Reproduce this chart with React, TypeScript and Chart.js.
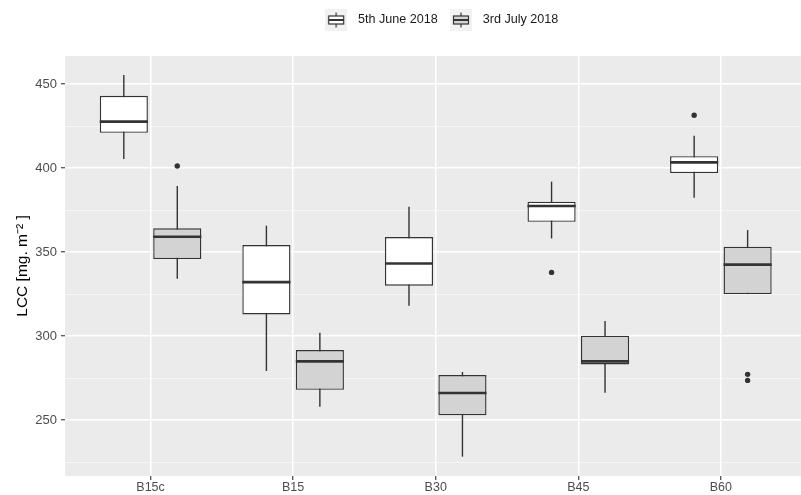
import React, { useEffect, useRef } from 'react';
import { Chart, registerables } from 'chart.js';

Chart.register(...registerables);

// ---------- data ----------
const categories = ['B15c', 'B15', 'B30', 'B45', 'B60'];
const seriesNames = ['5th June 2018', '3rd July 2018'];

const juneLowerWhisker = [405.4, 279.2, 318.1, 358.1, 382.3];
const juneQ1 = [421.0, 312.9, 330.0, 368.0, 397.0];
const juneMedian = [427.6, 332.1, 343.2, 377.4, 403.4];
const juneQ3 = [443.0, 354.2, 358.9, 380.0, 407.1];
const juneUpperWhisker = [455.4, 365.7, 377.0, 391.9, 419.2];
const juneOutlierCats = ['B45', 'B60'];
const juneOutlierValues = [337.9, 431.4];

const julyLowerWhisker = [334.1, 257.9, 228.2, 266.3, 325.0];
const julyQ1 = [345.8, 268.0, 252.8, 283.1, 325.0];
const julyMedian = [359.1, 284.9, 266.1, 284.9, 342.5];
const julyQ3 = [364.1, 291.7, 276.8, 300.2, 353.2];
const julyUpperWhisker = [389.3, 302.0, 278.6, 308.9, 363.1];
const julyOutlierCats = ['B15c', 'B60', 'B60'];
const julyOutlierValues = [401.2, 277.2, 273.6];

// y grid: major lines are labelled, minor ones are not
const yGridValues = [225, 250, 275, 300, 325, 350, 375, 400, 425, 450];
const yLabelledValues = [250, 300, 350, 400, 450];
const yMin = 216.7;
const yMax = 466.7;

// ---------- styling ----------
const FONT = "'Liberation Sans', Arial, sans-serif";
const CANVAS_W = 879;
const CANVAS_H = 495;
const DODGE = 0.75; // categoryPercentage (ggplot dodge width)
const BOX_PCT = 0.9;
const LINE = '#333333';
const FILLS = ['#FFFFFF', '#D3D3D3'];

const boxStats = [
  { lower: juneLowerWhisker, median: juneMedian, upper: juneUpperWhisker },
  { lower: julyLowerWhisker, median: julyMedian, upper: julyUpperWhisker },
];

const isMajor = (v: number) => yLabelledValues.includes(Math.round(v));

function makeKeyIcon(fill: string) {
  const c = document.createElement('canvas');
  c.width = 22;
  c.height = 22;
  const g = c.getContext('2d')!;
  g.fillStyle = '#F2F2F2';
  g.fillRect(0, 0, 22, 22);
  g.strokeStyle = LINE;
  g.lineWidth = 1.2;
  g.beginPath();
  g.moveTo(11, 3.5);
  g.lineTo(11, 18.5);
  g.stroke();
  g.fillStyle = fill;
  g.fillRect(3.5, 7, 15, 8);
  g.strokeRect(3.5, 7, 15, 8);
  g.lineWidth = 2;
  g.beginPath();
  g.moveTo(3.5, 11);
  g.lineTo(18.5, 11);
  g.stroke();
  return c;
}

const boxPlugin = {
  id: 'boxParts',
  beforeDraw(chart: any) {
    const { ctx, chartArea } = chart;
    ctx.save();
    ctx.fillStyle = '#EBEBEB';
    ctx.fillRect(chartArea.left, chartArea.top, chartArea.right - chartArea.left, chartArea.bottom - chartArea.top);
    ctx.restore();
  },
  beforeDatasetsDraw(chart: any) {
    const { ctx } = chart;
    const yS = chart.scales.y;
    ctx.save();
    ctx.strokeStyle = LINE;
    ctx.lineWidth = 1.4;
    boxStats.forEach((s, di) => {
      const meta = chart.getDatasetMeta(di);
      meta.data.forEach((el: any, i: number) => {
        ctx.beginPath();
        ctx.moveTo(el.x, yS.getPixelForValue(s.lower[i]));
        ctx.lineTo(el.x, yS.getPixelForValue(s.upper[i]));
        ctx.stroke();
      });
    });
    ctx.restore();
  },
  afterDatasetsDraw(chart: any) {
    const { ctx } = chart;
    const yS = chart.scales.y;
    ctx.save();
    ctx.strokeStyle = LINE;
    ctx.lineWidth = 2.7;
    boxStats.forEach((s, di) => {
      const meta = chart.getDatasetMeta(di);
      meta.data.forEach((el: any, i: number) => {
        const y = yS.getPixelForValue(s.median[i]);
        ctx.beginPath();
        ctx.moveTo(el.x - el.width / 2, y);
        ctx.lineTo(el.x + el.width / 2, y);
        ctx.stroke();
      });
    });
    ctx.restore();
  },
};

export default function App() {
  const ref = useRef<HTMLCanvasElement>(null);

  useEffect(() => {
    if (!ref.current) return;
    const icons = FILLS.map((f) => makeKeyIcon(f));
    const q1s = [juneQ1, julyQ1];
    const q3s = [juneQ3, julyQ3];
    const outCats = [juneOutlierCats, julyOutlierCats];
    const outVals = [juneOutlierValues, julyOutlierValues];

    const boxDatasets = [0, 1].map((s) => ({
      type: 'bar' as const,
      label: seriesNames[s],
      data: categories.map((_, i) => ({ x: i, y: [q1s[s][i], q3s[s][i]] })),
      backgroundColor: FILLS[s],
      borderColor: LINE,
      borderWidth: 1.4,
      borderSkipped: false,
      categoryPercentage: DODGE,
      barPercentage: BOX_PCT,
    }));
    const outlierDatasets = [0, 1].map((s) => ({
      type: 'scatter' as const,
      label: seriesNames[s] + ' outliers',
      data: outCats[s].map((c, k) => ({
        x: categories.indexOf(c) + (s === 0 ? -DODGE / 4 : DODGE / 4),
        y: outVals[s][k],
      })),
      pointRadius: 2.7,
      pointHoverRadius: 2.7,
      backgroundColor: LINE,
      borderWidth: 0,
    }));

    const chart = new Chart(ref.current, {
      type: 'bar',
      data: { datasets: [...boxDatasets, ...outlierDatasets] as any },
      plugins: [boxPlugin],
      options: {
        animation: false,
        responsive: false,
        layout: { padding: { top: 6, left: 0, right: 0, bottom: 0 } },
        plugins: {
          tooltip: { enabled: false },
          title: {
            display: true,
            text: '',
            weight: 500,
            position: 'top',
            font: { size: 1, lineHeight: 1 },
            padding: { top: 18.7, bottom: 0 },
          } as any,
          legend: {
            position: 'top',
            onClick: () => {},
            labels: {
              usePointStyle: true,
              pointStyleWidth: 31,
              padding: 7.7,
              color: '#1A1A1A',
              font: { family: FONT, size: 12.6 },
              generateLabels: () =>
                [0, 1].map((i) => ({
                  text: seriesNames[i],
                  pointStyle: icons[i] as any,
                  datasetIndex: i,
                  fillStyle: FILLS[i],
                  strokeStyle: LINE,
                  lineWidth: 0,
                  hidden: false,
                  fontColor: '#1A1A1A',
                })),
            },
          } as any,
        },
        scales: {
          x: {
            type: 'linear',
            min: -0.6,
            max: 5.09,
            offset: false,
            grid: {
              offset: false,
              color: '#FFFFFF',
              lineWidth: 1.5,
              tickLength: 4,
              tickColor: LINE,
              tickWidth: 1.1,
            },
            border: { display: false },
            ticks: {
              stepSize: 1,
              includeBounds: false,
              autoSkip: false,
              maxRotation: 0,
              minRotation: 0,
              padding: 0,
              color: '#4D4D4D',
              font: { family: FONT, size: 12.5 },
              callback: (v: any) => categories[Math.round(Number(v))] ?? '',
            },
            afterFit: (s: any) => {
              s.height = 19;
            },
          } as any,
          y: {
            type: 'linear',
            min: yMin,
            max: yMax,
            afterBuildTicks: (s: any) => {
              s.ticks = yGridValues.map((v) => ({ value: v }));
            },
            grid: {
              color: (c: any) => (c.tick && isMajor(c.tick.value) ? '#FFFFFF' : 'rgba(255,255,255,0.7)'),
              lineWidth: (c: any) => (c.tick && isMajor(c.tick.value) ? 1.5 : 0.8),
              tickLength: 4,
              tickColor: (c: any) => (c.tick && isMajor(c.tick.value) ? LINE : 'rgba(0,0,0,0)'),
              tickWidth: 1.1,
            },
            border: { display: false },
            ticks: {
              autoSkip: false,
              padding: 4,
              color: '#4D4D4D',
              font: { family: FONT, size: 13 },
              callback: (v: any) => (isMajor(Number(v)) ? String(v) : ''),
            },
            title: {
              display: true,
              text: 'LCC [mg. m⁻² ]',
              color: '#000000',
              font: { family: FONT, size: 15.5 },
              padding: { top: 13, bottom: 0 },
            },
            afterFit: (s: any) => {
              s.width = 65;
            },
          } as any,
        },
      },
    });
    return () => chart.destroy();
  }, []);

  return (
    <div
      style={{
        position: 'fixed',
        left: 0,
        top: 0,
        width: 801,
        height: 495,
        overflow: 'hidden',
        background: '#FFFFFF',
      }}
    >
      <canvas
        ref={ref}
        width={CANVAS_W}
        height={CANVAS_H}
        style={{ display: 'block', width: CANVAS_W, height: CANVAS_H }}
      />
    </div>
  );
}
